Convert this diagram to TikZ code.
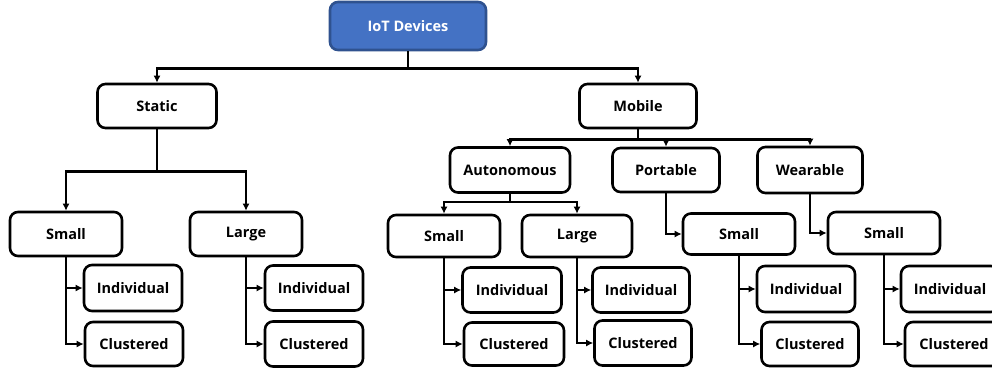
\documentclass[tikz,border=0pt]{standalone}
\usepackage{fontspec}
\setmainfont{Open Sans}
\usetikzlibrary{arrows.meta}

\definecolor{iotfill}{RGB}{68,114,196}
\definecolor{iotline}{RGB}{47,82,143}

\begin{document}
\begin{tikzpicture}[x=1pt,y=-1pt,>={Latex[length=7pt,width=7pt]},
    box/.style={draw, line width=2.6pt, rounded corners=8pt, inner sep=0pt,
        font=\fontsize{14.5}{16}\selectfont\bfseries},
    link/.style={line width=2.6pt}]

        % Page frame
        \clip (0,0) rectangle (992,372);

        % Root
        \node[box, draw=iotline, fill=iotfill, text=white, minimum width=156, minimum height=48] (iot) at (408,26) {IoT Devices};

        % First level
        \node[box, minimum width=119, minimum height=44] (static) at (157,106) {Static};
        \node[box, minimum width=117, minimum height=44] (mobile) at (638,106) {Mobile};

        % Static branch
        \node[box, minimum width=112, minimum height=44] (ssmall) at (66,234) {Small};
        \node[box, minimum width=112, minimum height=44] (slarge) at (246,234) {Large};
        \node[box, minimum width=98, minimum height=46] (ssind) at (133,288) {Individual};
        \node[box, minimum width=98, minimum height=44] (ssclu) at (134,344) {Clustered};
        \node[box, minimum width=98, minimum height=45] (slind) at (314,288) {Individual};
        \node[box, minimum width=98, minimum height=45] (slclu) at (314,344) {Clustered};

        % Mobile branch
        \node[box, minimum width=120, minimum height=45] (auto) at (510,170) {Autonomous};
        \node[box, minimum width=107, minimum height=44] (port) at (666,170) {Portable};
        \node[box, minimum width=105, minimum height=46] (wear) at (810,170) {Wearable};

        \node[box, minimum width=112, minimum height=42] (asmall) at (444,236) {Small};
        \node[box, minimum width=110, minimum height=42] (alarge) at (577,236) {Large};
        \node[box, minimum width=99, minimum height=45] (asind) at (512,290) {Individual};
        \node[box, minimum width=100, minimum height=43] (asclu) at (514,344) {Clustered};
        \node[box, minimum width=97, minimum height=45] (alind) at (641,290) {Individual};
        \node[box, minimum width=97, minimum height=45] (alclu) at (643,343) {Clustered};

        \node[box, minimum width=112, minimum height=41] (psmall) at (739,234) {Small};
        \node[box, minimum width=98, minimum height=46] (psind) at (806,289) {Individual};
        \node[box, minimum width=97, minimum height=44] (psclu) at (810,344) {Clustered};

        \node[box, minimum width=112, minimum height=42] (wsmall) at (884,233) {Small};
        \node[box, minimum width=98, minimum height=46] (wsind) at (950,289) {Individual};
        \node[box, minimum width=98, minimum height=44] (wsclu) at (954,344) {Clustered};

        % Connectors from the root
        \draw[link,->] (iot.south) -- ++(0,17) -| (static.north);
        \draw[link,->] (iot.south) -- ++(0,17) -| (mobile.north);

        % Static connectors
        \draw[link,->] (static.south) -- ++(0,42) -| (ssmall.north);
        \draw[link,->] (static.south) -- ++(0,42) -| (slarge.north);
        \draw[link,->] (ssmall.south) |- (ssind.west);
        \draw[link,->] (ssmall.south) |- (ssclu.west);
        \draw[link,->] (slarge.south) |- (slind.west);
        \draw[link,->] (slarge.south) |- (slclu.west);

        % Mobile connectors
        \draw[link,->] (mobile.south) -- ++(0,10) -| (auto.north);
        \draw[link,->] (mobile.south) -- ++(0,10) -| (port.north);
        \draw[link,->] (mobile.south) -- ++(0,10) -| (wear.north);

        \draw[link,->] (auto.south) -- ++(0,8) -| (asmall.north);
        \draw[link,->] (auto.south) -- ++(0,8) -| (alarge.north);
        \draw[link,->] (asmall.south) |- (asind.west);
        \draw[link,->] (asmall.south) |- (asclu.west);
        \draw[link,->] (alarge.south) |- (alind.west);
        \draw[link,->] (alarge.south) |- (alclu.west);

        \draw[link,->] (port.south) |- (psmall.west);
        \draw[link,->] (psmall.south) |- (psind.west);
        \draw[link,->] (psmall.south) |- (psclu.west);

        \draw[link,->] (wear.south) |- (wsmall.west);
        \draw[link,->] (wsmall.south) |- (wsind.west);
        \draw[link,->] (wsmall.south) |- (wsclu.west);

    \end{tikzpicture}
\end{document}
